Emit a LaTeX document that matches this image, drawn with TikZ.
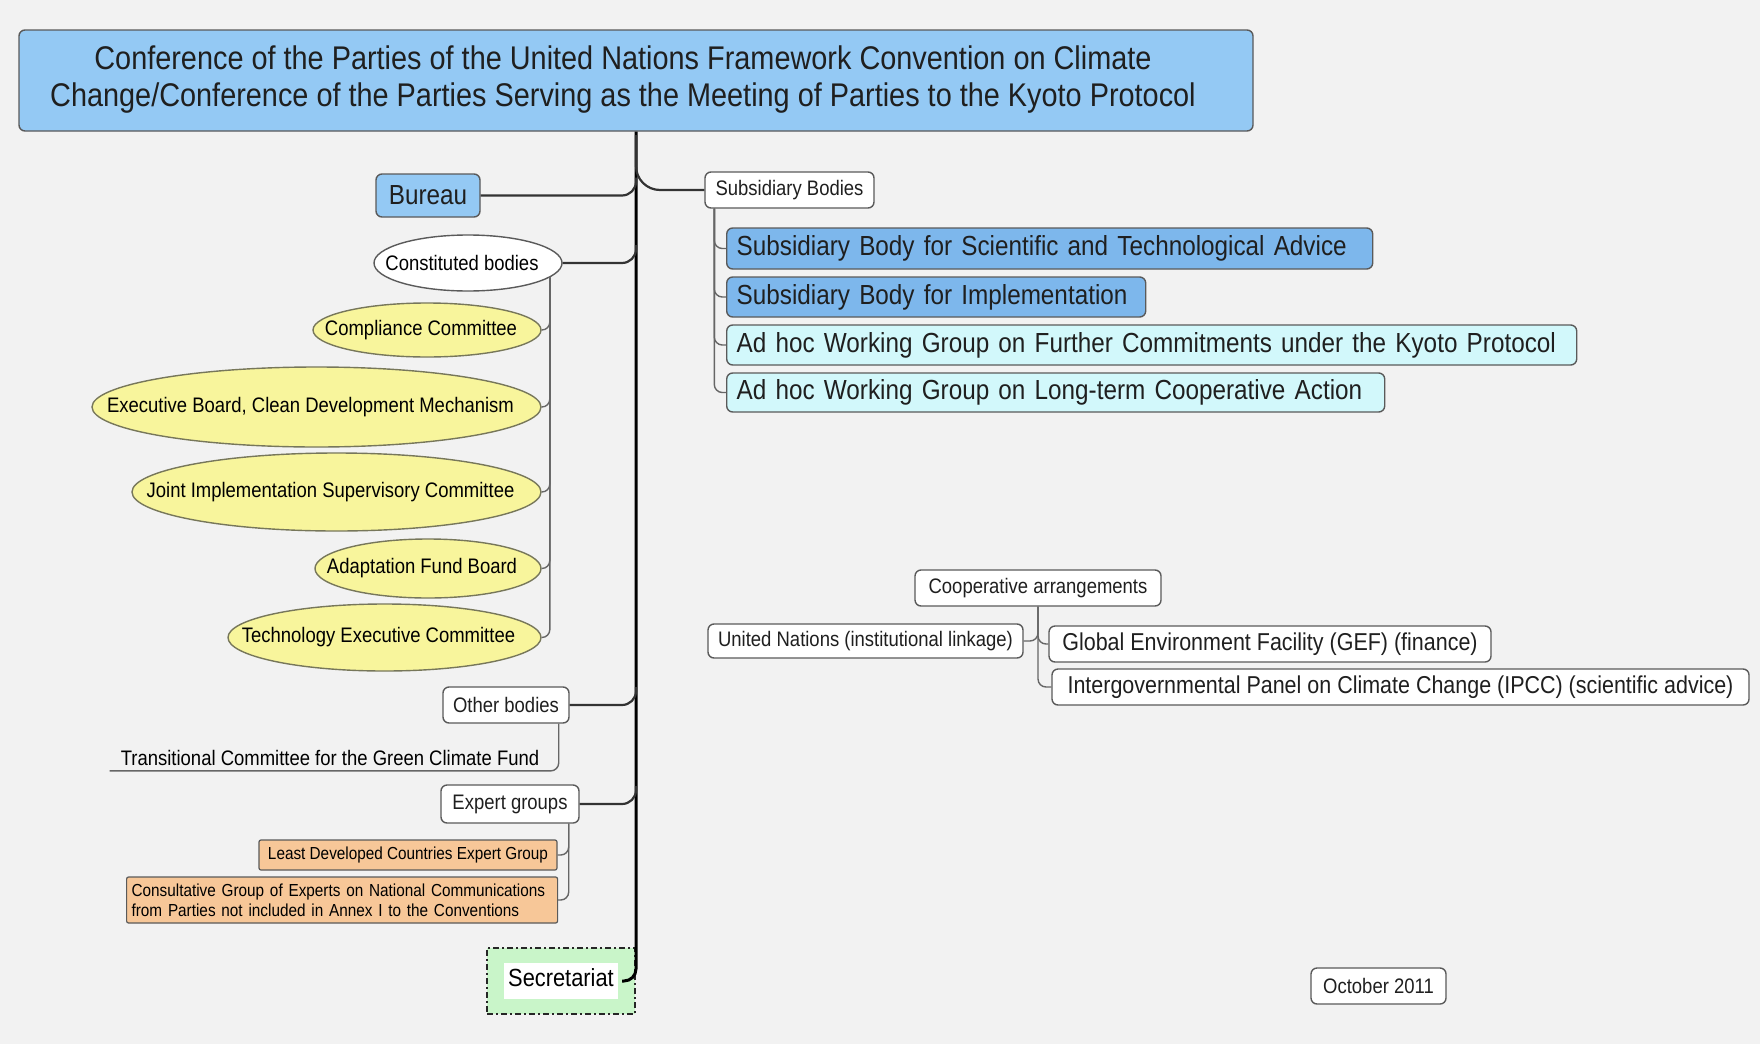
\documentclass[tikz,border=0pt]{standalone}
\usepackage{fontspec}
\setmainfont{Liberation Sans}[FakeStretch=0.88]
\usetikzlibrary{calc,shapes.geometric}

\definecolor{bgcol}{HTML}{F2F2F2}
\definecolor{edgecol}{HTML}{5A5A5A}
\definecolor{titleblue}{HTML}{94C9F4}
\definecolor{sbblue}{HTML}{7DB7EC}
\definecolor{awgcyan}{HTML}{D2F8FB}
\definecolor{commyellow}{HTML}{F8F59C}
\definecolor{commedge}{HTML}{77775A}
\definecolor{expertorange}{HTML}{F7C798}
\definecolor{secgreen}{HTML}{C9F5C9}

% ellipse labels must not push the ellipse wider than its set size
\newcommand{\ovaltext}[1]{\makebox[0pt]{#1\hspace{6pt}}}

\begin{document}
\begin{tikzpicture}[x=0.5pt,y=-0.5pt,
  topic/.style={draw=edgecol,line width=0.7pt,rounded corners=3pt,inner sep=0pt,text=black!88},
  plain/.style={topic,fill=white,font=\fontsize{10.5}{12}\selectfont},
  bluebox/.style={topic,fill=titleblue},
  sbbox/.style={topic,anchor=west,align=left,inner xsep=5pt,font=\fontsize{13.8}{15}\selectfont},
  oval/.style={ellipse,draw=edgecol,line width=0.7pt,fill=white,inner sep=0pt,font=\fontsize{10.5}{12}\selectfont},
  comm/.style={oval,draw=commedge,fill=commyellow},
  expert/.style={draw=edgecol,line width=0.6pt,fill=expertorange,rounded corners=1pt,inner sep=0pt,font=\fontsize{8.7}{10}\selectfont},
  trunk/.style={draw=black,line width=1.5pt,rounded corners=6pt},
  branch/.style={draw=black!80,line width=1.1pt,rounded corners=7pt},
  twig/.style={draw=black!60,line width=0.7pt,rounded corners=4pt}]
\fill[bgcol] (0,0) rectangle (1760,1044);
\useasboundingbox (0,0) rectangle (1760,1044);

% top of the tree
\node[bluebox,minimum width=617pt,minimum height=50.5pt,
  font=\fontsize{16.4}{18.5}\selectfont] (title) at (636,80.5)
  {\begin{tabular}{@{}c@{\hspace{13pt}}}
   Conference of the Parties of the United Nations Framework Convention on Climate\\
   Change/Conference of the Parties Serving as the Meeting of Parties to the Kyoto Protocol
   \end{tabular}};

% left side
\node[bluebox,minimum width=52pt,minimum height=21.5pt,font=\fontsize{13.8}{15}\selectfont] (bu) at (428,195.5) {Bureau};
\node[oval,minimum width=94pt,minimum height=28pt] (cb) at (468,263) {\ovaltext{Constituted bodies}};
\node[comm,minimum width=114pt,minimum height=27pt] (cc) at (427,330) {\ovaltext{Compliance Committee}};
\node[comm,minimum width=224.5pt,minimum height=40pt] (eb) at (316.5,407) {\ovaltext{Executive Board, Clean Development Mechanism}};
\node[comm,minimum width=204.5pt,minimum height=39pt] (ji) at (336.5,492) {\ovaltext{Joint Implementation Supervisory Committee}};
\node[comm,minimum width=113pt,minimum height=29.5pt] (af) at (428,568.5) {\ovaltext{Adaptation Fund Board}};
\node[comm,minimum width=156.5pt,minimum height=33.5pt] (te) at (384.5,637.5) {\ovaltext{Technology Executive Committee}};
\node[plain,minimum width=63pt,minimum height=18pt] (ob) at (506,705) {Other bodies};
\node[inner sep=0pt,minimum width=220pt,minimum height=13pt,font=\fontsize{10.5}{12}\selectfont] (tc) at (330,757.5)
  {Transitional Committee for the Green Climate Fund};
\node[plain,minimum width=69pt,minimum height=19pt] (eg) at (510,804) {Expert groups};
\node[expert,minimum width=149pt,minimum height=15pt] (ld) at (408,855) {Least Developed Countries Expert Group};
\node[expert,anchor=west,align=left,inner xsep=2.5pt,text width=210.5pt,minimum height=23pt] (cg) at (126,900)
  {Consultative Group of Experts on National Communications\\from Parties not included in Annex I to the Conventions};
\node[draw=black!85,line width=1pt,dash pattern=on 3pt off 1.5pt on 1pt off 1.5pt,fill=secgreen,
  minimum width=74pt,minimum height=33pt,inner sep=0pt,font=\fontsize{12.4}{14}\selectfont] (sec) at (561,981)
  {\fboxsep=2pt\colorbox{white}{\strut Secretariat}};

% right side
\node[plain,minimum width=84.5pt,minimum height=18pt] (sb) at (789.5,190) {Subsidiary Bodies};
\node[sbbox,fill=sbblue,text width=313pt,minimum height=20.5pt] (s1) at (726,248.5)
  {Subsidiary Body for Scientific and Technological Advice};
\node[sbbox,fill=sbblue,text width=199.5pt,minimum height=20pt] (s2) at (726,297)
  {Subsidiary Body for Implementation};
\node[sbbox,fill=awgcyan,text width=415pt,minimum height=20pt] (s3) at (726,345)
  {Ad hoc Working Group on Further Commitments under the Kyoto Protocol};
\node[sbbox,fill=awgcyan,text width=319pt,minimum height=19.5pt] (s4) at (726,392.5)
  {Ad hoc Working Group on Long-term Cooperative Action};

\node[plain,minimum width=123pt,minimum height=18pt] (co) at (1038,588) {Cooperative arrangements};
\node[plain,minimum width=157.5pt,minimum height=17pt] (un) at (865.5,641) {United Nations (institutional linkage)};
\node[plain,minimum width=221pt,minimum height=18pt,font=\fontsize{12.2}{13}\selectfont] (gef) at (1270,644)
  {Global Environment Facility (GEF) (finance)};
\node[plain,minimum width=348.5pt,minimum height=18pt,font=\fontsize{12.2}{13}\selectfont] (ip) at (1400.5,687)
  {Intergovernmental Panel on Climate Change (IPCC) (scientific advice)};
\node[plain,minimum width=67.5pt,minimum height=18pt] (oc) at (1378.5,986) {October 2011};

% connectors
\draw[trunk] (title.south) -- (title.south |- sec.east) -- ([xshift=-7pt]sec.east);
\draw[branch] (bu.east) -| ($(title.south |- bu.east)+(0,-18)$);
\draw[branch] (cb.east) -| ($(title.south |- cb.east)+(0,-18)$);
\draw[branch] (ob.east) -| ($(title.south |- ob.east)+(0,-18)$);
\draw[branch] (eg.east) -| ($(title.south |- eg.east)+(0,-18)$);
\draw[branch,rounded corners=12pt] (sb.west) -| ($(title.south |- sb.west)+(0,-55)$);
\foreach \kid in {cc,eb,ji,af,te}
  \draw[twig] (cb.-10) |- (\kid.east);
\draw[twig] ([xshift=-5.5pt]ob.south east) |- (tc.south west);
\foreach \kid in {ld,cg}
  \draw[twig] ([xshift=-5.5pt]eg.south east) |- (\kid.east);
\foreach \kid in {s1,s2,s3,s4}
  \draw[twig] ([xshift=5pt]sb.south west) |- (\kid.west);
\draw[twig] (co.south) |- (un.east);
\foreach \kid in {gef,ip}
  \draw[twig] (co.south) |- (\kid.west);
\end{tikzpicture}
\end{document}
